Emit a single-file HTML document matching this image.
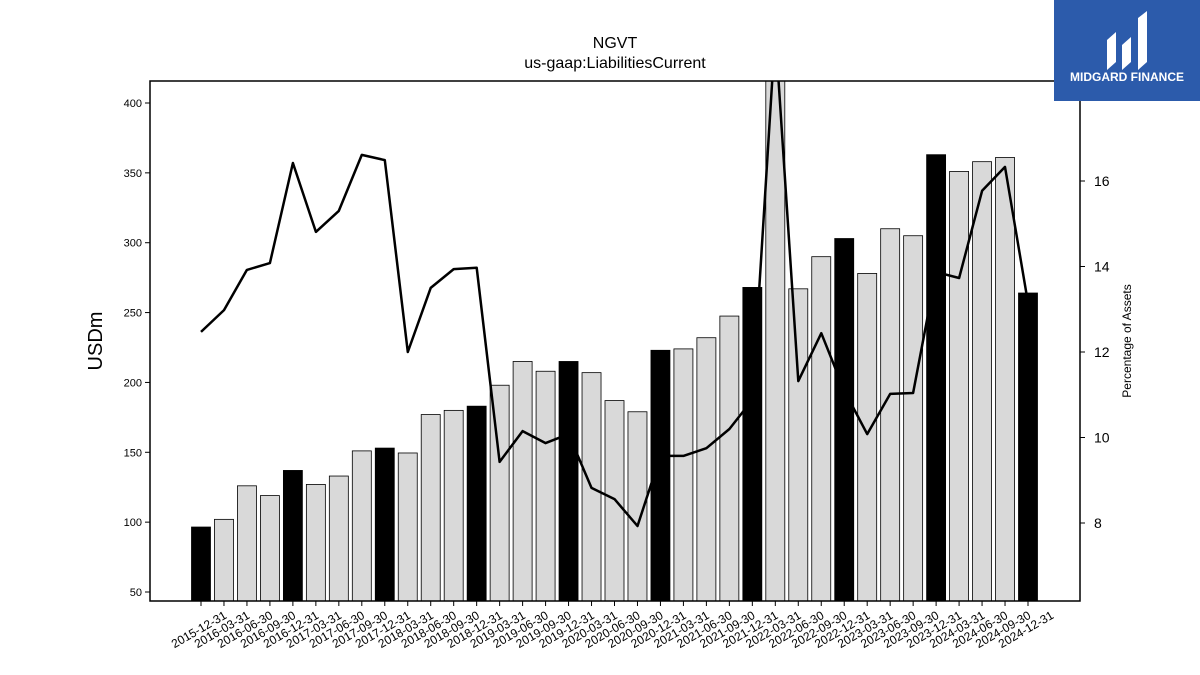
<!DOCTYPE html>
<html><head><meta charset="utf-8"><style>
body{margin:0;background:#fff;}
svg{display:block;font-family:"Liberation Sans","DejaVu Sans",sans-serif;}
</style></head><body>
<svg id="chart" width="1200" height="675" viewBox="0 0 1200 675" xmlns="http://www.w3.org/2000/svg">
<rect width="1200" height="675" fill="#fff"/>
<text x="615" y="48" text-anchor="middle" font-size="16">NGVT</text>
<text x="615" y="68" text-anchor="middle" font-size="16">us-gaap:LiabilitiesCurrent</text>
<g id="bars"></g>
<g id="line"></g>
<g id="axes"></g>
<rect x="150" y="81" width="930" height="520" fill="none" stroke="#000" stroke-width="1.5"/>
<text transform="translate(102,341) rotate(-90)" text-anchor="middle" font-size="20">USDm</text>
<text transform="translate(1131,341) rotate(-90)" text-anchor="middle" font-size="12">Percentage of Assets</text>
<g>
<rect x="1054" y="0" width="146" height="101" fill="#2c5bab"/>
<path d="M1107 70 V40 L1116 32 V62 Z M1122 70 V45 L1131 37 V62 Z M1138 70 V18 L1147 11 V62 Z" fill="#fff"/>
<text x="1127" y="81" text-anchor="middle" font-size="12" font-weight="bold" fill="#fff">MIDGARD FINANCE</text>
</g>
</svg>
<script>
const categories=["2015-12-31","2016-03-31","2016-06-30","2016-09-30","2016-12-31","2017-03-31","2017-06-30","2017-09-30","2017-12-31","2018-03-31","2018-06-30","2018-09-30","2018-12-31","2019-03-31","2019-06-30","2019-09-30","2019-12-31","2020-03-31","2020-06-30","2020-09-30","2020-12-31","2021-03-31","2021-06-30","2021-09-30","2021-12-31","2022-03-31","2022-06-30","2022-09-30","2022-12-31","2023-03-31","2023-06-30","2023-09-30","2023-12-31","2024-03-31","2024-06-30","2024-09-30","2024-12-31"];
const liabilities=[96.5,102,126,119,137,127,133,151,153,149.5,177,180,183,198,215,208,215,207,187,179,223,224,232,247.5,268,425,267,290,303,278,310,305,363,351,358,361,264];
const pctAssets=[12.47,12.98,13.92,14.08,16.42,14.81,15.30,16.61,16.49,12.0,13.5,13.94,13.97,9.43,10.15,9.87,10.08,8.82,8.56,7.93,9.57,9.57,9.75,10.2,10.88,19.5,11.32,12.44,11.1,10.08,11.02,11.04,13.87,13.73,15.77,16.33,13.15];
const leftTicks=[50,100,150,200,250,300,350,400];
const rightTicks=[8,10,12,14,16];

const NS="http://www.w3.org/2000/svg";
const PX0=150,PX1=1080,PY0=81,PY1=601;
const xPos=i=>201+i*(1028-201)/36;
const yL=v=>592-(v-50)*(489/350);
const yR=p=>523-(p-8)*42.75;
function mk(tag,attrs,parent){const e=document.createElementNS(NS,tag);for(const k in attrs)e.setAttribute(k,attrs[k]);parent.appendChild(e);return e;}
const svg=document.getElementById('chart');
const defs=mk('defs',{},svg);
const cp=mk('clipPath',{id:'clip'},defs);
mk('rect',{x:PX0,y:PY0,width:PX1-PX0,height:PY1-PY0},cp);
const bars=document.getElementById('bars');bars.setAttribute('clip-path','url(#clip)');
liabilities.forEach((v,i)=>{
  const q4=categories[i].endsWith('12-31');
  const top=yL(v);
  const r=mk('rect',{x:xPos(i)-9.5,y:top,width:19,height:PY1-top,fill:q4?'#000':'#d9d9d9',stroke:'#000','stroke-width':0.8},bars);
  
  
});
const lineG=document.getElementById('line');lineG.setAttribute('clip-path','url(#clip)');
const pts=pctAssets.map((p,i)=>xPos(i).toFixed(1)+','+yR(p).toFixed(1)).join(' ');
const pl=mk('polyline',{points:pts,fill:'none',stroke:'#000','stroke-width':2.5,'stroke-linejoin':'round'},lineG);


const axes=document.getElementById('axes');
leftTicks.forEach(t=>{
  const y=yL(t);
  mk('line',{x1:PX0-5,x2:PX0,y1:y,y2:y,stroke:'#000'},axes);
  const tx=mk('text',{x:PX0-8,y:y+4,'text-anchor':'end','font-size':11},axes);tx.textContent=t;
  
  
});
rightTicks.forEach(t=>{
  const y=yR(t);
  mk('line',{x1:PX1,x2:PX1+5,y1:y,y2:y,stroke:'#000'},axes);
  const tx=mk('text',{x:PX1+14,y:y+5,'font-size':14},axes);tx.textContent=t;
  
  
});
categories.forEach((c,i)=>{
  const x=xPos(i);
  mk('line',{x1:x,x2:x,y1:PY1,y2:PY1+5,stroke:'#000'},axes);
  const tx=mk('text',{transform:`translate(${x},${PY1+32}) rotate(-30)`,'text-anchor':'middle','font-size':12},axes);tx.textContent=c;
  
  
});
</script>
</body></html>
